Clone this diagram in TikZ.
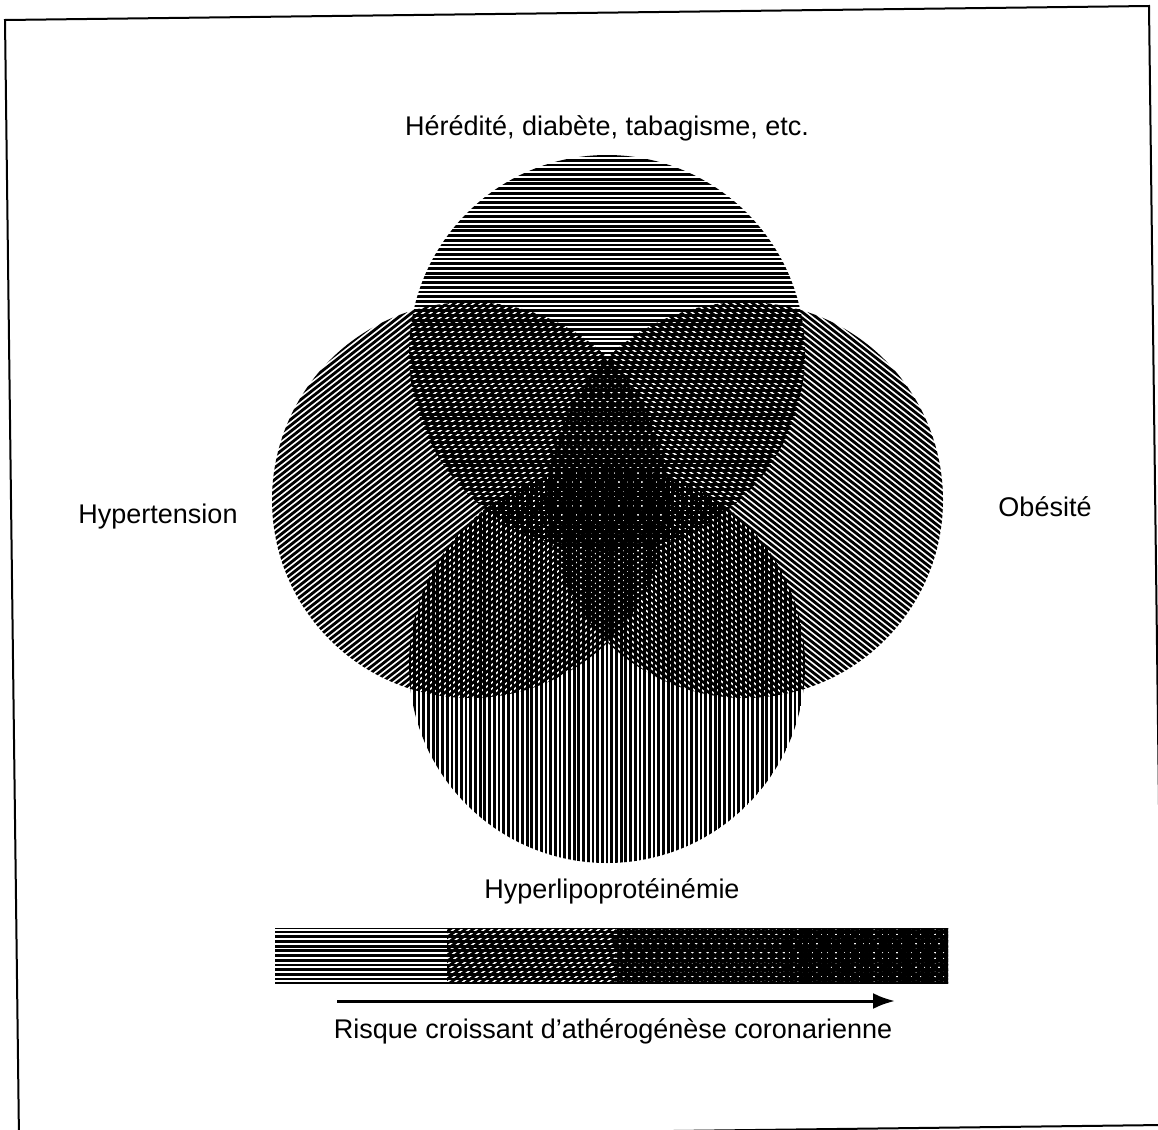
\documentclass[tikz,border=0pt]{standalone}
\usepackage{fontspec}
\setmainfont{Liberation Sans}
\usetikzlibrary{arrows.meta}
\newcommand\hatchcircle[3]{%
  \begin{scope}[shift={(#1,#2)}]
    \clip (0,0) circle (198);
    \begin{scope}[rotate=#3]
      \foreach \k in {-43,...,43} \draw[hatch] (-210,\k*4.7) -- (210,\k*4.7);
    \end{scope}
  \end{scope}}
\newcommand\hatchrect[5]{%
  \begin{scope}
    \clip (#1,#2) rectangle (#3,#4);
    \begin{scope}[shift={({(#1+#3)/2},{(#2+#4)/2})}, rotate=#5]
      \foreach \k in {-25,...,25} \draw[hatch] (-120,\k*4.7) -- (120,\k*4.7);
    \end{scope}
  \end{scope}}
\begin{document}
\begin{tikzpicture}[x=0.5pt,y=-0.5pt,
  hatch/.style={line width=1.4pt, black},
  lbl/.style={font=\fontsize{13.5pt}{16pt}\selectfont, inner sep=0pt, anchor=base},
  framestyle/.style={line width=1pt, black}]
\useasboundingbox (0,0) rectangle (1158,1130);
\clip (0,0) rectangle (1158,1130);
% frame (slightly rotated, as in the scan)
\draw[framestyle] (5,20) -- (1149,6) -- (1163,1125) -- (19,1139) -- cycle;
% four hatched circles
\hatchcircle{607}{353}{0}    % top: horizontal
\hatchcircle{470}{500}{38}   % left
\hatchcircle{745}{500}{-38}  % right
\hatchcircle{607}{665}{90}   % bottom: vertical
% labels
\node[lbl] (t1) at (607,135) {Hérédité, diabète, tabagisme, etc.};
\node[lbl] (t2) at (158,523) {Hypertension};
\node[lbl] (t3) at (1045,516) {Obésité};
\node[lbl] (t4) at (612,898) {Hyperlipoprotéinémie};
% legend bar
\hatchrect{275}{928}{447}{983}{0}
\hatchrect{447}{928}{615}{983}{0}
\hatchrect{447}{928}{615}{983}{38}
\hatchrect{615}{928}{785}{983}{0}
\hatchrect{615}{928}{785}{983}{38}
\hatchrect{615}{928}{785}{983}{-38}
\hatchrect{785}{928}{948}{983}{0}
\hatchrect{785}{928}{948}{983}{38}
\hatchrect{785}{928}{948}{983}{-38}
\hatchrect{785}{928}{948}{983}{90}
% arrow
\coordinate (a0) at (337,1001);
\coordinate (a1) at (895,1001);
\draw[line width=1.5pt, -{Latex[length=11pt,width=8pt]}] (a0) -- (a1);
\node[lbl] (t5) at (613,1038) {Risque croissant d'athérogénèse coronarienne};
\end{tikzpicture}
\end{document}
